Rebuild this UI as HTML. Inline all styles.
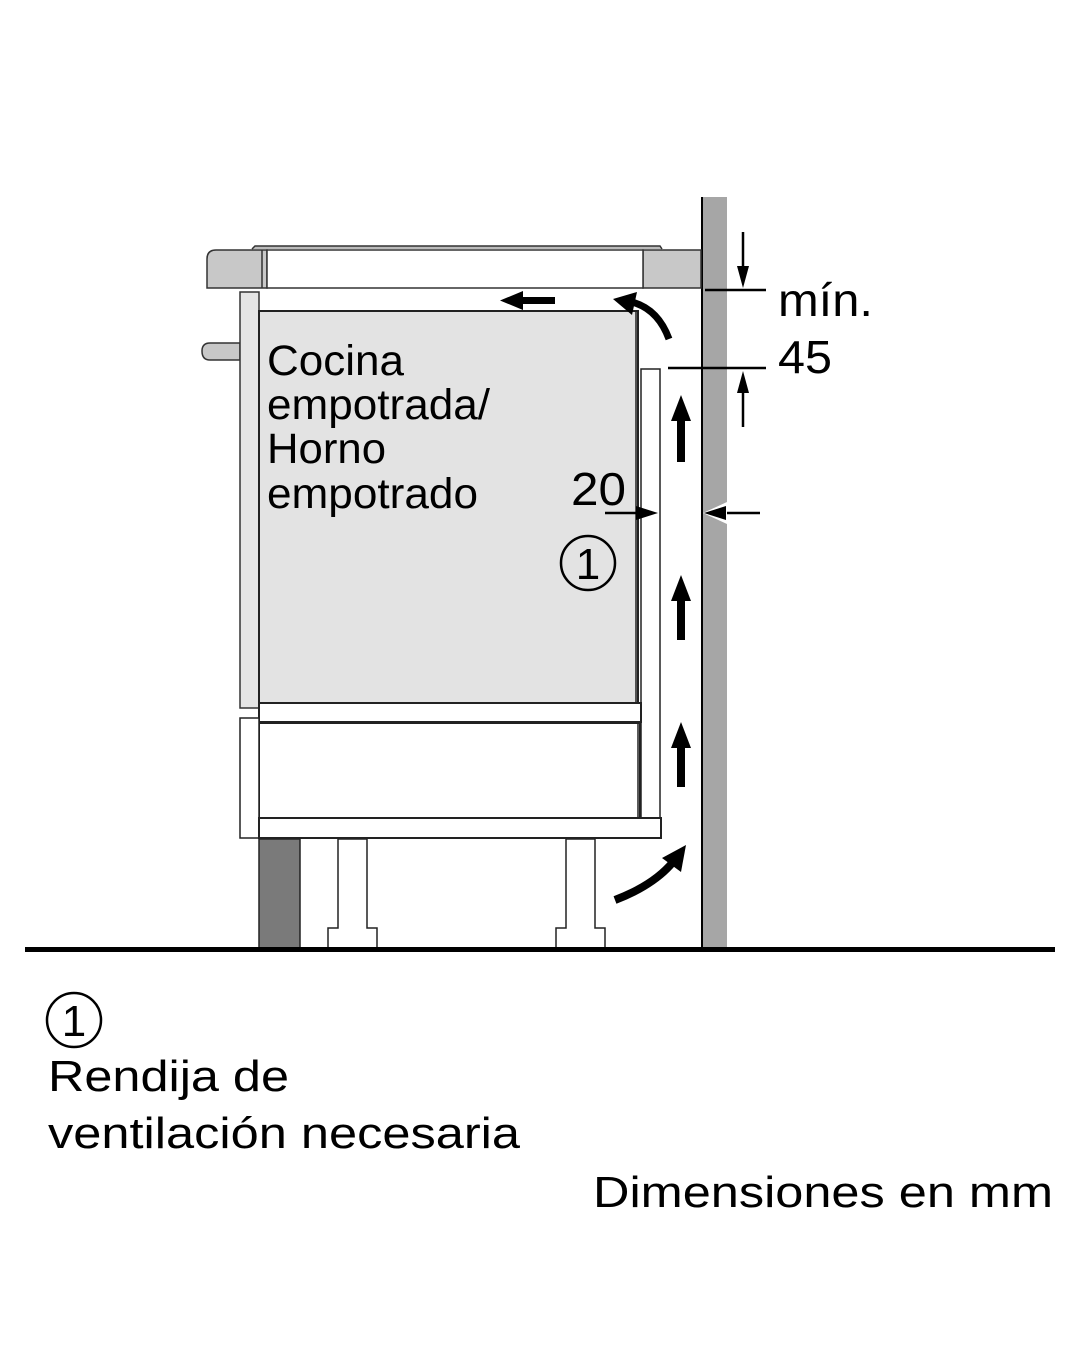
<!DOCTYPE html>
<html><head><meta charset="utf-8"><style>html,body{margin:0;padding:0;background:#fff}svg{display:block}</style></head>
<body>
<svg width="1080" height="1350" viewBox="0 0 1080 1350" xmlns="http://www.w3.org/2000/svg" font-family="Liberation Sans, Arial, sans-serif">
<rect x="701" y="197" width="26" height="753" fill="#a6a6a6"/>
<line x1="702" y1="197" x2="702" y2="950" stroke="#000" stroke-width="2"/>
<path d="M267 250 L216 250 Q207 250 207 259 L207 288 L267 288 Z" fill="#c8c8c8" stroke="#333" stroke-width="1.5"/>
<rect x="643" y="250" width="58" height="38" fill="#c8c8c8" stroke="#333" stroke-width="1.5"/>
<rect x="267" y="250" width="376" height="38" fill="#fff" stroke="#333" stroke-width="1.5"/>
<line x1="262" y1="250" x2="262" y2="288" stroke="#333" stroke-width="1.5"/>
<path d="M252 249 L255 246 L660 246 L662 249" fill="#bbb" stroke="#333" stroke-width="1.5"/>
<path d="M240 343 L210 343 Q202 343 202 351 Q202 360 210 360 L240 360 Z" fill="#c8c8c8" stroke="#333" stroke-width="1.5"/>
<rect x="240" y="292" width="19" height="416" fill="#e5e5e5" stroke="#333" stroke-width="1.5"/>
<rect x="259" y="311" width="379" height="392" fill="#e3e3e3" stroke="#222" stroke-width="2"/>
<line x1="636" y1="311" x2="636" y2="703" stroke="#222" stroke-width="1.5"/>
<rect x="641" y="369" width="19" height="469" fill="#fff" stroke="#222" stroke-width="1.5"/>
<rect x="259" y="703" width="382" height="19" fill="#fff" stroke="#222" stroke-width="2"/>
<rect x="259" y="723" width="381" height="95" fill="#fff" stroke="#222" stroke-width="2"/>
<line x1="638" y1="723" x2="638" y2="818" stroke="#222" stroke-width="1.5"/>
<rect x="240" y="718" width="19" height="120" fill="#fff" stroke="#222" stroke-width="1.5"/>
<rect x="259" y="818" width="402" height="20" fill="#fff" stroke="#222" stroke-width="2"/>
<rect x="259" y="839" width="41" height="111" fill="#7a7a7a" stroke="#222" stroke-width="1.5"/>
<path d="M338 839 L338 928 L328 928 L328 948 L377 948 L377 928 L367 928 L367 839 Z" fill="#fff" stroke="#222" stroke-width="1.5"/>
<path d="M566 839 L566 928 L556 928 L556 948 L605 948 L605 928 L595 928 L595 839 Z" fill="#fff" stroke="#222" stroke-width="1.5"/>
<rect x="25" y="947" width="1030" height="5" fill="#000"/>
<g fill="#000">
<rect x="677" y="418" width="8" height="44"/><path d="M671 421 L681 395 L691 421 Z"/>
<rect x="677" y="598" width="8" height="42"/><path d="M671 601 L681 575 L691 601 Z"/>
<rect x="677" y="745" width="8" height="42"/><path d="M671 748 L681 722 L691 748 Z"/>
<rect x="520" y="297" width="35" height="7"/><path d="M523 291 L500 300.5 L523 310 Z"/>
</g>
<path d="M669 339 Q658 309 632 302" fill="none" stroke="#000" stroke-width="7"/>
<path d="M637 292 L613 299 L632 315 Z" fill="#000"/>
<path d="M615 900 Q654 885 673 862" fill="none" stroke="#000" stroke-width="8"/>
<path d="M662 858 L686 845 L681 872 Z" fill="#000"/>
<g stroke="#000" stroke-width="2.5">
<line x1="705" y1="290" x2="766" y2="290"/>
<line x1="668" y1="368" x2="766" y2="368"/>
<line x1="743" y1="232" x2="743" y2="270"/>
<line x1="743" y1="392" x2="743" y2="427"/>
<line x1="605" y1="513" x2="640" y2="513"/>
<line x1="722" y1="513" x2="760" y2="513"/>
</g>
<g fill="#000">
<path d="M737 266 L743 288 L749 266 Z"/>
<path d="M737 393 L743 371 L749 393 Z"/>
<path d="M636 506 L658 513 L636 520 Z"/>
</g>
<path d="M703 513 L727 502 L727 524 Z" fill="#fff"/>
<path d="M726 506 L704 513 L726 520 Z" fill="#000"/>
<g fill="#000" font-size="43">
<text x="267" y="375" textLength="137" lengthAdjust="spacingAndGlyphs">Cocina</text>
<text x="267" y="419" textLength="223" lengthAdjust="spacingAndGlyphs">empotrada/</text>
<text x="267" y="463" textLength="119" lengthAdjust="spacingAndGlyphs">Horno</text>
<text x="267" y="508" textLength="211" lengthAdjust="spacingAndGlyphs">empotrado</text>
</g>
<g fill="#000" font-size="46">
<text x="571" y="505" textLength="55" lengthAdjust="spacingAndGlyphs">20</text>
<text x="778" y="316" textLength="95" lengthAdjust="spacingAndGlyphs">mín.</text>
<text x="778" y="373" textLength="54" lengthAdjust="spacingAndGlyphs">45</text>
</g>
<circle cx="588" cy="563" r="27" fill="none" stroke="#000" stroke-width="2.5"/>
<text x="588" y="579" font-size="44" text-anchor="middle" fill="#000">1</text>
<circle cx="74" cy="1020" r="27" fill="none" stroke="#000" stroke-width="2.5"/>
<text x="74" y="1036" font-size="44" text-anchor="middle" fill="#000">1</text>
<g fill="#000" font-size="44">
<text x="48" y="1091" textLength="241" lengthAdjust="spacingAndGlyphs">Rendija de</text>
<text x="48" y="1148" textLength="472" lengthAdjust="spacingAndGlyphs">ventilación necesaria</text>
<text x="593" y="1207" textLength="460" lengthAdjust="spacingAndGlyphs">Dimensiones en mm</text>
</g>
</svg>
</body></html>
